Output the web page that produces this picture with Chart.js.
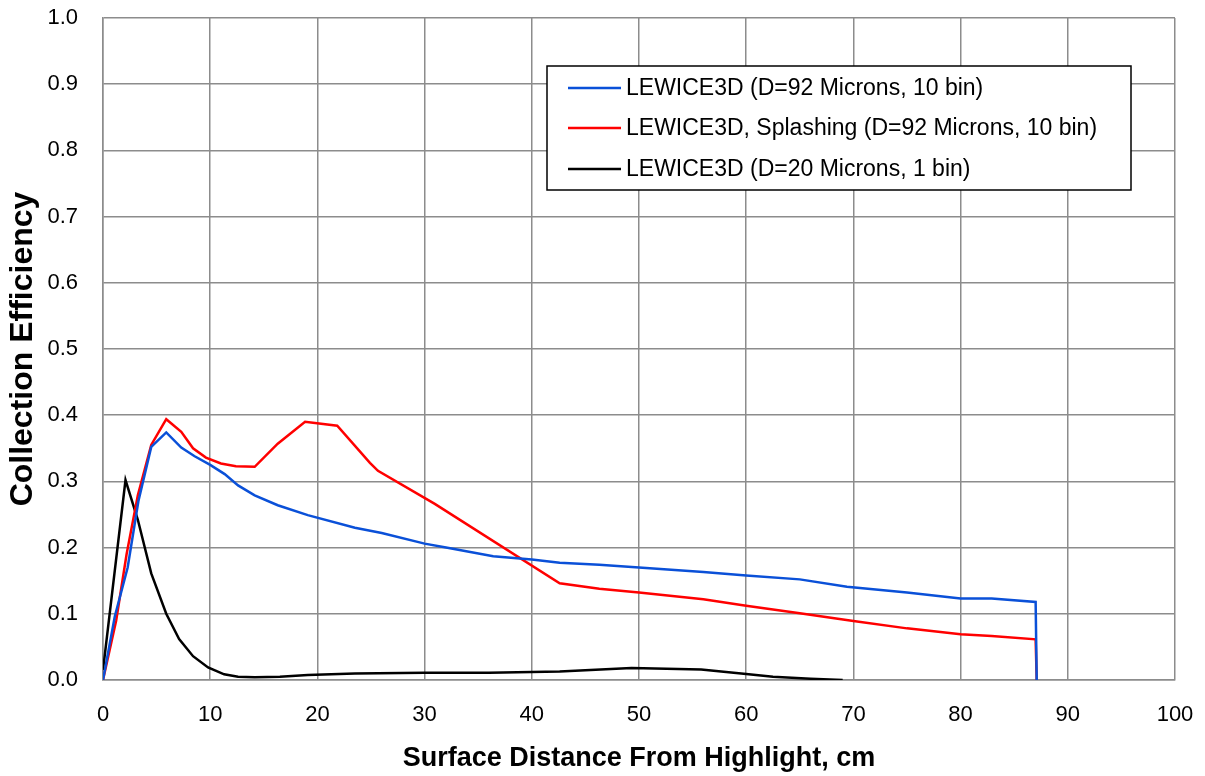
<!DOCTYPE html>
<html>
<head>
<meta charset="utf-8">
<script src="https://cdn.jsdelivr.net/npm/chart.js@4"></script>
<style>
  html,body{margin:0;padding:0;background:#fff;}
  #wrap{width:1205px;height:776px;position:relative;}
</style>
</head>
<body>
<div id="wrap"><canvas id="c" width="1205" height="776"></canvas></div>
<script>
// ---- data ----
const seriesLabels = [
  "LEWICE3D (D=92 Microns, 10 bin)",
  "LEWICE3D, Splashing (D=92 Microns, 10 bin)",
  "LEWICE3D (D=20 Microns, 1 bin)"
];
const blueX = [0, 1.1, 2.3, 3.3, 4.5, 5.9, 7.3, 8.55, 10, 11.35, 12.6, 14.15, 16.3, 19.1, 23.5, 26, 30, 32, 36.4, 40, 42.6, 46.3, 50, 56, 60, 65, 69.4, 75, 80, 82.9, 87.0, 87.1];
const blueY = [0, 0.096, 0.17, 0.27, 0.352, 0.374, 0.351, 0.338, 0.325, 0.311, 0.294, 0.279, 0.264, 0.249, 0.23, 0.222, 0.206, 0.2, 0.187, 0.182, 0.177, 0.174, 0.17, 0.163, 0.158, 0.152, 0.141, 0.132, 0.123, 0.123, 0.118, 0];
const redX = [0, 1.23, 2.2, 3.25, 4.5, 5.9, 7.3, 8.4, 9.6, 11.0, 12.4, 14.15, 16.3, 18.85, 21.85, 24.9, 25.65, 30.95, 42.6, 46.3, 50, 56, 60, 65, 70, 75, 80, 82.9, 87.0, 87.1];
const redY = [0, 0.09, 0.19, 0.279, 0.355, 0.394, 0.375, 0.35, 0.336, 0.327, 0.323, 0.322, 0.357, 0.39, 0.384, 0.328, 0.316, 0.266, 0.146, 0.138, 0.132, 0.122, 0.112, 0.101, 0.089, 0.078, 0.069, 0.0665, 0.0615, 0];
const blackX = [0, 2.1, 3.25, 4.5, 5.9, 7.1, 8.4, 9.8, 11.3, 12.6, 14.15, 16.5, 19.1, 23.5, 30, 36, 42.6, 49.3, 55.8, 60, 62.5, 66, 69.0];
const blackY = [0.015, 0.302, 0.242, 0.161, 0.1, 0.062, 0.036, 0.019, 0.0086, 0.005, 0.004, 0.005, 0.0075, 0.01, 0.011, 0.011, 0.013, 0.018, 0.016, 0.009, 0.005, 0.002, 0];
const xTicks = [0, 10, 20, 30, 40, 50, 60, 70, 80, 90, 100];
const yTicks = [0.0, 0.1, 0.2, 0.3, 0.4, 0.5, 0.6, 0.7, 0.8, 0.9, 1.0];
const xTitle = "Surface Distance From Highlight, cm";
const yTitle = "Collection Efficiency";
const colors = ["#0a50d8", "#ff0000", "#000000"];

const toPts = (xs, ys) => xs.map((x, i) => ({x: x, y: ys[i]}));
const FONT = "'Liberation Sans', Arial, sans-serif";

const boxLegend = {
  id: 'boxLegend',
  afterDraw(chart) {
    const ctx = chart.ctx;
    const x0 = 547, y0 = 66, w = 584, h = 124;
    ctx.save();
    ctx.fillStyle = '#fff';
    ctx.fillRect(x0, y0, w, h);
    ctx.strokeStyle = '#000';
    ctx.lineWidth = 1.5;
    ctx.strokeRect(x0, y0, w, h);
    ctx.font = "23px " + FONT;
    ctx.textBaseline = 'middle';
    ctx.fillStyle = '#000';
    const rows = [88, 128, 169];
    chart.data.datasets.forEach((ds, i) => {
      ctx.strokeStyle = ds.borderColor;
      ctx.lineWidth = 2.5;
      ctx.beginPath();
      ctx.moveTo(568, rows[i]);
      ctx.lineTo(621, rows[i]);
      ctx.stroke();
      ctx.fillText(ds.label, 626, rows[i] + 1);
    });
    ctx.restore();
  }
};

new Chart(document.getElementById('c'), {
  type: 'line',
  data: {
    datasets: [
      {label: seriesLabels[0], data: toPts(blueX, blueY), borderColor: colors[0], backgroundColor: colors[0]},
      {label: seriesLabels[1], data: toPts(redX, redY), borderColor: colors[1], backgroundColor: colors[1]},
      {label: seriesLabels[2], data: toPts(blackX, blackY), borderColor: colors[2], backgroundColor: colors[2]}
    ]
  },
  options: {
    responsive: false,
    animation: false,
    elements: {
      point: {radius: 0},
      line: {borderWidth: 2.5, tension: 0}
    },
    layout: {padding: {left: 0, right: 30, top: 18, bottom: 0}},
    plugins: {legend: {display: false}, tooltip: {enabled: false}},
    scales: {
      x: {
        type: 'linear', min: 0, max: 100,
        afterBuildTicks: s => { s.ticks = xTicks.map(v => ({value: v})); },
        afterFit: s => { s.height = 96; },
        grid: {color: '#8c8c8c', lineWidth: 1.5, drawTicks: true, tickLength: 22, tickColor: 'rgba(0,0,0,0)'},
        border: {color: '#8c8c8c', width: 1.5},
        ticks: {color: '#000', font: {size: 22, family: FONT}, padding: 0, maxRotation: 0},
        title: {display: true, text: xTitle, color: '#000', font: {size: 27, weight: 'bold', family: FONT}, padding: {top: 0, bottom: 1}}
      },
      y: {
        type: 'linear', min: 0, max: 1,
        afterBuildTicks: s => { s.ticks = yTicks.map(v => ({value: v})); },
        afterFit: s => { s.width = 103; },
        grid: {color: '#8c8c8c', lineWidth: 1.5, drawTicks: true, tickLength: 25, tickColor: 'rgba(0,0,0,0)'},
        border: {color: '#8c8c8c', width: 1.5},
        ticks: {color: '#000', font: {size: 22, family: FONT}, padding: 0, callback: v => v.toFixed(1)},
        title: {display: true, text: yTitle, color: '#000', font: {size: 32, weight: 'bold', family: FONT}, padding: {top: 4, bottom: 0}}
      }
    }
  },
  plugins: [boxLegend]
});
</script>
</body>
</html>
